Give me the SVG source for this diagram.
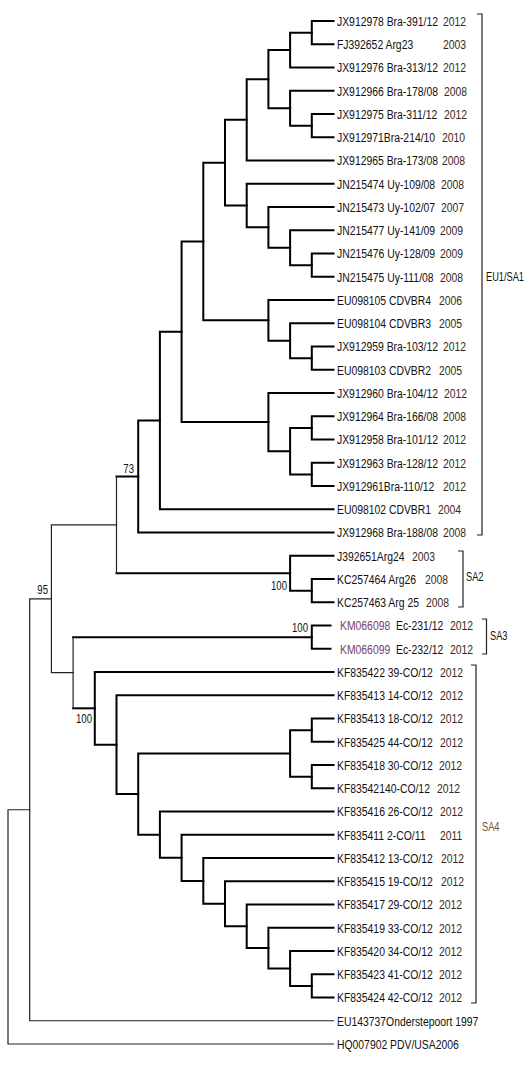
<svg xmlns="http://www.w3.org/2000/svg" width="531" height="1066" viewBox="0 0 531 1066">
<style>
text{font-family:"Liberation Sans",Arial,sans-serif;}
.t{font-size:13.5px;fill:#111;}
.y{font-size:13.5px;fill:#3a2818;}
.p{font-size:13.5px;fill:#7a3a6c;}
.bs{font-size:12px;fill:#111;text-anchor:end;}
.bs0{font-size:12px;fill:#111;}
.cl{font-size:12px;fill:#111;}
.b{fill:none;stroke:#000;stroke-width:2;stroke-linecap:square;}
.n{fill:none;stroke:#222;stroke-width:1.2;stroke-linecap:square;}
.k{fill:none;stroke:#222;stroke-width:1.2;}
</style>
<rect width="531" height="1066" fill="#fff"/>
<g id="connectors">
<path class="b" d="M333.5,21 H311.8 V44.25 H333.5"/>
<path class="b" d="M311.8,32.63 H290.1 V67.5 H333.5"/>
<path class="b" d="M333.5,114 H311.8 V137.25 H333.5"/>
<path class="b" d="M333.5,90.75 H290.1 V125.63 H311.8"/>
<path class="b" d="M290.1,50.06 H268.4 V108.19 H290.1"/>
<path class="b" d="M268.4,79.13 H246.7 V160.5 H333.5"/>
<path class="b" d="M333.5,253.5 H311.8 V276.75 H333.5"/>
<path class="b" d="M333.5,230.25 H290.1 V265.13 H311.8"/>
<path class="b" d="M333.5,207 H268.4 V247.69 H290.1"/>
<path class="b" d="M333.5,183.75 H246.7 V227.34 H268.4"/>
<path class="b" d="M246.7,119.81 H225 V205.55 H246.7"/>
<path class="b" d="M333.5,346.5 H311.8 V369.75 H333.5"/>
<path class="b" d="M333.5,323.25 H290.1 V358.13 H311.8"/>
<path class="b" d="M333.5,300 H268.4 V340.69 H290.1"/>
<path class="b" d="M225,162.68 H203.3 V320.34 H268.4"/>
<path class="b" d="M333.5,416.25 H311.8 V439.5 H333.5"/>
<path class="b" d="M333.5,462.75 H311.8 V486 H333.5"/>
<path class="b" d="M311.8,427.88 H290.1 V474.38 H311.8"/>
<path class="b" d="M333.5,393 H268.4 V451.13 H290.1"/>
<path class="b" d="M203.3,241.51 H181.6 V422.06 H268.4"/>
<path class="b" d="M181.6,331.79 H159.9 V509.25 H333.5"/>
<path class="b" d="M159.9,420.52 H138.2 V532.5 H333.5"/>
<path class="b" d="M333.5,579 H311.8 V602.25 H333.5"/>
<path class="b" d="M333.5,555.75 H290.1 V590.63 H311.8"/>
<path class="b" d="M138.2,476.51 H116.5"/>
<path class="b" d="M116.5,573.19 H290.1"/>
<path class="n" d="M116.5,476.51 V573.19"/>
<path class="b" d="M330.5,625.5 H311.8 V648.75 H330.5"/>
<path class="b" d="M333.5,718.5 H311.8 V741.75 H333.5"/>
<path class="b" d="M333.5,765 H311.8 V788.25 H333.5"/>
<path class="b" d="M311.8,730.13 H290.1 V776.63 H311.8"/>
<path class="b" d="M333.5,974.25 H311.8 V997.5 H333.5"/>
<path class="b" d="M333.5,951 H290.1 V985.88 H311.8"/>
<path class="b" d="M333.5,927.75 H268.4 V968.44 H290.1"/>
<path class="b" d="M333.5,904.5 H246.7 V948.09 H268.4"/>
<path class="b" d="M333.5,881.25 H225 V926.3 H246.7"/>
<path class="b" d="M333.5,858 H203.3 V903.77 H225"/>
<path class="b" d="M333.5,834.75 H181.6 V880.89 H203.3"/>
<path class="b" d="M333.5,811.5 H159.9 V857.82 H181.6"/>
<path class="b" d="M290.1,753.38 H138.2 V834.66 H159.9"/>
<path class="b" d="M333.5,695.25 H116.5 V794.02 H138.2"/>
<path class="b" d="M333.5,672 H94.8 V744.64 H116.5"/>
<path class="b" d="M311.8,637.13 H73.1"/>
<path class="b" d="M73.1,708.32 H94.8"/>
<path class="n" d="M73.1,637.13 V708.32"/>
<path class="n" d="M116.5,524.85 H51.4 V672.72 H73.1"/>
<path class="n" d="M51.4,598.79 H29.7 V1020.75 H333.5"/>
<path class="n" d="M29.7,809.77 H8 V1044 H333.5"/>
</g>
<g id="support">
<text class="bs" transform="translate(134,473) scale(.8,1)">73</text>
<text class="bs" transform="translate(48,594) scale(.8,1)">95</text>
<text class="bs" transform="translate(287,590) scale(.8,1)">100</text>
<text class="bs" transform="translate(308,632) scale(.8,1)">100</text>
<text class="bs0" transform="translate(76,723) scale(.8,1)">100</text>
</g>
<g id="clades">
<g id="clade-EU1-SA1"><path class="k" d="M477,14 H482 V535 H477"/><text class="cl" transform="translate(486,281) scale(.77,1)">EU1/SA1</text></g>
<g id="clade-SA2"><path class="k" d="M458,551 H463 V607 H458"/><text class="cl" transform="translate(466,581) scale(.77,1)">SA2</text></g>
<g id="clade-SA3"><path class="k" d="M482,619 H486.5 V654 H482"/><text class="cl" transform="translate(490,640) scale(.77,1)">SA3</text></g>
<g id="clade-SA4"><path class="k" d="M471,665 H476 V1003 H471"/><text class="cl" style="fill:#7a4a30" transform="translate(482,831) scale(.77,1)">SA4</text></g>
</g>
<g id="leaves">
<g id="leaf01"><text class="t" transform="translate(337,25.8) scale(.77,1)">JX912978 Bra-391/12</text><text class="y" transform="translate(443,25.8) scale(.77,1)">2012</text></g>
<g id="leaf02"><text class="t" transform="translate(337,49.05) scale(.77,1)">FJ392652 Arg23</text><text class="y" transform="translate(443,49.05) scale(.77,1)">2003</text></g>
<g id="leaf03"><text class="t" transform="translate(337,72.3) scale(.77,1)">JX912976 Bra-313/12</text><text class="y" transform="translate(443,72.3) scale(.77,1)">2012</text></g>
<g id="leaf04"><text class="t" transform="translate(337,95.55) scale(.77,1)">JX912966 Bra-178/08</text><text class="y" transform="translate(444,95.55) scale(.77,1)">2008</text></g>
<g id="leaf05"><text class="t" transform="translate(337,118.8) scale(.77,1)">JX912975 Bra-311/12</text><text class="y" transform="translate(444,118.8) scale(.77,1)">2012</text></g>
<g id="leaf06"><text class="t" transform="translate(337,142.05) scale(.77,1)">JX912971Bra-214/10</text><text class="y" transform="translate(442,142.05) scale(.77,1)">2010</text></g>
<g id="leaf07"><text class="t" transform="translate(337,165.3) scale(.77,1)">JX912965 Bra-173/08</text><text class="y" transform="translate(442,165.3) scale(.77,1)">2008</text></g>
<g id="leaf08"><text class="t" transform="translate(337,188.55) scale(.77,1)">JN215474 Uy-109/08</text><text class="y" transform="translate(441,188.55) scale(.77,1)">2008</text></g>
<g id="leaf09"><text class="t" transform="translate(337,211.8) scale(.77,1)">JN215473 Uy-102/07</text><text class="y" transform="translate(441,211.8) scale(.77,1)">2007</text></g>
<g id="leaf10"><text class="t" transform="translate(337,235.05) scale(.77,1)">JN215477 Uy-141/09</text><text class="y" transform="translate(440,235.05) scale(.77,1)">2009</text></g>
<g id="leaf11"><text class="t" transform="translate(337,258.3) scale(.77,1)">JN215476 Uy-128/09</text><text class="y" transform="translate(440,258.3) scale(.77,1)">2009</text></g>
<g id="leaf12"><text class="t" transform="translate(337,281.55) scale(.77,1)">JN215475 Uy-111/08</text><text class="y" transform="translate(440,281.55) scale(.77,1)">2008</text></g>
<g id="leaf13"><text class="t" transform="translate(337,304.8) scale(.77,1)">EU098105 CDVBR4</text><text class="y" transform="translate(439,304.8) scale(.77,1)">2006</text></g>
<g id="leaf14"><text class="t" transform="translate(337,328.05) scale(.77,1)">EU098104 CDVBR3</text><text class="y" transform="translate(439,328.05) scale(.77,1)">2005</text></g>
<g id="leaf15"><text class="t" transform="translate(337,351.3) scale(.77,1)">JX912959 Bra-103/12</text><text class="y" transform="translate(443,351.3) scale(.77,1)">2012</text></g>
<g id="leaf16"><text class="t" transform="translate(337,374.55) scale(.77,1)">EU098103 CDVBR2</text><text class="y" transform="translate(439,374.55) scale(.77,1)">2005</text></g>
<g id="leaf17"><text class="t" transform="translate(337,397.8) scale(.77,1)">JX912960 Bra-104/12</text><text class="y" transform="translate(444,397.8) scale(.77,1)">2012</text></g>
<g id="leaf18"><text class="t" transform="translate(337,421.05) scale(.77,1)">JX912964 Bra-166/08</text><text class="y" transform="translate(443,421.05) scale(.77,1)">2008</text></g>
<g id="leaf19"><text class="t" transform="translate(337,444.3) scale(.77,1)">JX912958 Bra-101/12</text><text class="y" transform="translate(443,444.3) scale(.77,1)">2012</text></g>
<g id="leaf20"><text class="t" transform="translate(337,467.55) scale(.77,1)">JX912963 Bra-128/12</text><text class="y" transform="translate(443,467.55) scale(.77,1)">2012</text></g>
<g id="leaf21"><text class="t" transform="translate(337,490.8) scale(.77,1)">JX912961Bra-110/12</text><text class="y" transform="translate(443,490.8) scale(.77,1)">2012</text></g>
<g id="leaf22"><text class="t" transform="translate(337,514.05) scale(.77,1)">EU098102 CDVBR1</text><text class="y" transform="translate(438,514.05) scale(.77,1)">2004</text></g>
<g id="leaf23"><text class="t" transform="translate(337,537.3) scale(.77,1)">JX912968 Bra-188/08</text><text class="y" transform="translate(443,537.3) scale(.77,1)">2008</text></g>
<g id="leaf24"><text class="t" transform="translate(337,560.55) scale(.77,1)">J392651Arg24</text><text class="y" transform="translate(412,560.55) scale(.77,1)">2003</text></g>
<g id="leaf25"><text class="t" transform="translate(337,583.8) scale(.77,1)">KC257464 Arg26</text><text class="y" transform="translate(425,583.8) scale(.77,1)">2008</text></g>
<g id="leaf26"><text class="t" transform="translate(337,607.05) scale(.77,1)">KC257463 Arg 25</text><text class="y" transform="translate(426,607.05) scale(.77,1)">2008</text></g>
<g id="leaf27"><text class="p" transform="translate(340,630.3) scale(.77,1)">KM066098</text><text class="t" transform="translate(396,630.3) scale(.77,1)">Ec-231/12</text><text class="y" transform="translate(450,630.3) scale(.77,1)">2012</text></g>
<g id="leaf28"><text class="p" transform="translate(340,653.55) scale(.77,1)">KM066099</text><text class="t" transform="translate(396,653.55) scale(.77,1)">Ec-232/12</text><text class="y" transform="translate(450,653.55) scale(.77,1)">2012</text></g>
<g id="leaf29"><text class="t" transform="translate(337,676.8) scale(.77,1)">KF835422 39-CO/12</text><text class="y" transform="translate(440,676.8) scale(.77,1)">2012</text></g>
<g id="leaf30"><text class="t" transform="translate(337,700.05) scale(.77,1)">KF835413 14-CO/12</text><text class="y" transform="translate(440,700.05) scale(.77,1)">2012</text></g>
<g id="leaf31"><text class="t" transform="translate(337,723.3) scale(.77,1)">KF835413 18-CO/12</text><text class="y" transform="translate(440,723.3) scale(.77,1)">2012</text></g>
<g id="leaf32"><text class="t" transform="translate(337,746.55) scale(.77,1)">KF835425 44-CO/12</text><text class="y" transform="translate(440,746.55) scale(.77,1)">2012</text></g>
<g id="leaf33"><text class="t" transform="translate(337,769.8) scale(.77,1)">KF835418 30-CO/12</text><text class="y" transform="translate(439,769.8) scale(.77,1)">2012</text></g>
<g id="leaf34"><text class="t" transform="translate(337,793.05) scale(.77,1)">KF83542140-CO/12</text><text class="y" transform="translate(437,793.05) scale(.77,1)">2012</text></g>
<g id="leaf35"><text class="t" transform="translate(337,816.3) scale(.77,1)">KF835416 26-CO/12</text><text class="y" transform="translate(440,816.3) scale(.77,1)">2012</text></g>
<g id="leaf36"><text class="t" transform="translate(337,839.55) scale(.77,1)">KF835411 2-CO/11</text><text class="y" transform="translate(440,839.55) scale(.77,1)">2011</text></g>
<g id="leaf37"><text class="t" transform="translate(337,862.8) scale(.77,1)">KF835412 13-CO/12</text><text class="y" transform="translate(441,862.8) scale(.77,1)">2012</text></g>
<g id="leaf38"><text class="t" transform="translate(337,886.05) scale(.77,1)">KF835415 19-CO/12</text><text class="y" transform="translate(441,886.05) scale(.77,1)">2012</text></g>
<g id="leaf39"><text class="t" transform="translate(337,909.3) scale(.77,1)">KF835417 29-CO/12</text><text class="y" transform="translate(439,909.3) scale(.77,1)">2012</text></g>
<g id="leaf40"><text class="t" transform="translate(337,932.55) scale(.77,1)">KF835419 33-CO/12</text><text class="y" transform="translate(439,932.55) scale(.77,1)">2012</text></g>
<g id="leaf41"><text class="t" transform="translate(337,955.8) scale(.77,1)">KF835420 34-CO/12</text><text class="y" transform="translate(439,955.8) scale(.77,1)">2012</text></g>
<g id="leaf42"><text class="t" transform="translate(337,979.05) scale(.77,1)">KF835423 41-CO/12</text><text class="y" transform="translate(439,979.05) scale(.77,1)">2012</text></g>
<g id="leaf43"><text class="t" transform="translate(337,1002.3) scale(.77,1)">KF835424 42-CO/12</text><text class="y" transform="translate(439,1002.3) scale(.77,1)">2012</text></g>
<g id="leaf44"><text class="t" transform="translate(337,1025.55) scale(.77,1)">EU143737Onderstepoort 1997</text></g>
<g id="leaf45"><text class="t" transform="translate(337,1048.8) scale(.77,1)">HQ007902 PDV/USA2006</text></g>
</g>
</svg>
